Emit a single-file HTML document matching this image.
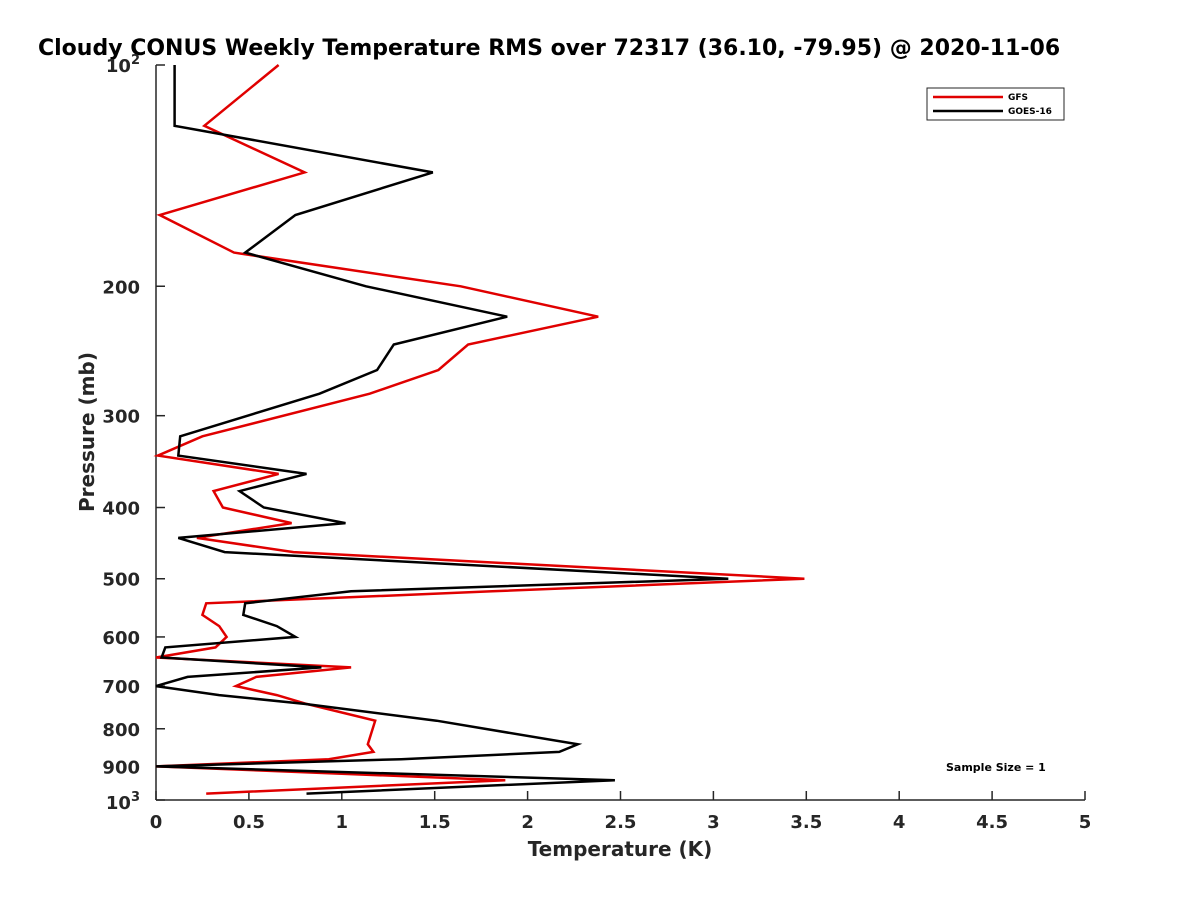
<!DOCTYPE html>
<html><head><meta charset="utf-8"><style>
html,body{margin:0;padding:0;background:#fff;}
svg{display:block;font-family:"DejaVu Sans","Liberation Sans",sans-serif;}
</style></head><body>
<svg id="chart" width="1200" height="900" viewBox="0 0 1200 900" xmlns="http://www.w3.org/2000/svg">
<rect width="1200" height="900" fill="#fff"/>
<text x="38" y="55" font-size="22" font-weight="bold" fill="#000">Cloudy CONUS Weekly Temperature RMS over 72317 (36.10, -79.95) @ 2020-11-06</text>
<g id="axes"></g>
<g id="series"></g>
<g>
<rect x="927" y="88" width="137" height="32" fill="#fff" stroke="#262626" stroke-width="1"/>
<line x1="933" y1="97" x2="1003" y2="97" stroke="#e00000" stroke-width="2.5"/>
<text x="1008" y="100" font-size="9" font-weight="bold">GFS</text>
<line x1="933" y1="111" x2="1003" y2="111" stroke="#000" stroke-width="2.5"/>
<text x="1008" y="114" font-size="9" font-weight="bold">GOES-16</text>
</g>
<text x="946" y="771" font-size="11" font-weight="bold">Sample Size = 1</text>
<text x="620" y="856" font-size="20" font-weight="bold" text-anchor="middle" fill="#262626">Temperature (K)</text>
<text transform="translate(94,432) rotate(-90)" font-size="20" font-weight="bold" text-anchor="middle" fill="#262626">Pressure (mb)</text>
</svg>
<script>
const levels = [100,121,140,160,180,200,220,240,260,280,320,340,360,380,400,420,440,460,500,520,540,560,580,600,620,640,660,680,700,720,740,780,840,860,880,900,940,980];
const gfsValues = [0.66,0.26,0.80,0.02,0.42,1.64,2.38,1.68,1.52,1.15,0.25,0.01,0.66,0.31,0.36,0.73,0.22,0.74,3.49,1.81,0.27,0.25,0.34,0.38,0.32,0.0,1.05,0.54,0.43,0.65,0.81,1.18,1.14,1.17,0.93,0.0,1.88,0.27];
const goesValues = [0.10,0.10,1.49,0.75,0.48,1.13,1.89,1.28,1.19,0.88,0.13,0.12,0.81,0.45,0.58,1.02,0.12,0.37,3.08,1.05,0.48,0.47,0.65,0.75,0.05,0.03,0.89,0.17,0.0,0.34,0.80,1.51,2.27,2.17,1.32,0.0,2.47,0.81];
const xTicks = [0,0.5,1,1.5,2,2.5,3,3.5,4,4.5,5];
const xTickLabels = ["0","0.5","1","1.5","2","2.5","3","3.5","4","4.5","5"];
const yTicks = [200,300,400,500,600,700,800,900];

const L=156,R=1085,T=65,B=800;
const xs=v=>L+(v-0)/(5-0)*(R-L);
const ys=p=>T+Math.log10(p/100)*(B-T);
const NS="http://www.w3.org/2000/svg";
function mk(tag,attrs,parent){const e=document.createElementNS(NS,tag);for(const k in attrs)e.setAttribute(k,attrs[k]);parent.appendChild(e);return e;}
const ax=document.getElementById('axes');
let e=mk('line',{x1:L,y1:T,x2:L,y2:B,stroke:'#262626','stroke-width':1.5},ax);


e=mk('line',{x1:L,y1:B,x2:R,y2:B,stroke:'#262626','stroke-width':1.5},ax);


xTicks.forEach((v,i)=>{
  const t=mk('line',{x1:xs(v),y1:B,x2:xs(v),y2:B-9,stroke:'#262626','stroke-width':1.5},ax);
  
  
  const l=mk('text',{x:xs(v),y:B+28,'font-size':18,'font-weight':'bold','text-anchor':'middle',fill:'#262626'},ax);
  l.textContent=xTickLabels[i];
  
  
});
[100].concat(yTicks).concat([1000]).forEach(p=>{
  const t=mk('line',{x1:L,y1:ys(p),x2:L+9,y2:ys(p),stroke:'#262626','stroke-width':1.5},ax);
  
  
});
yTicks.forEach(p=>{
  const l=mk('text',{x:L-16,y:ys(p)+7,'font-size':18,'font-weight':'bold','text-anchor':'end',fill:'#262626'},ax);
  l.textContent=String(p);
  
  
});
[[100,'2'],[1000,'3']].forEach(([p,ex])=>{
  const l=mk('text',{x:L-16,y:ys(p)+(p===100?7:9),'font-size':18,'font-weight':'bold','text-anchor':'end',fill:'#262626'},ax);
  l.textContent='10';
  const s=mk('tspan',{dy:-8,'font-size':13},l);
  s.textContent=ex;
  
  
});
const sg=document.getElementById('series');
function line(vals,color,name){
  const pts=vals.map((v,i)=>xs(v).toFixed(1)+','+ys(levels[i]).toFixed(1)).join(' ');
  const pl=mk('polyline',{points:pts,fill:'none',stroke:color,'stroke-width':2.5,'stroke-linejoin':'miter'},sg);
  
  
}
line(gfsValues,'#e00000','gfs-line');
line(goesValues,'#000000','goes16-line');
</script>
</body></html>
